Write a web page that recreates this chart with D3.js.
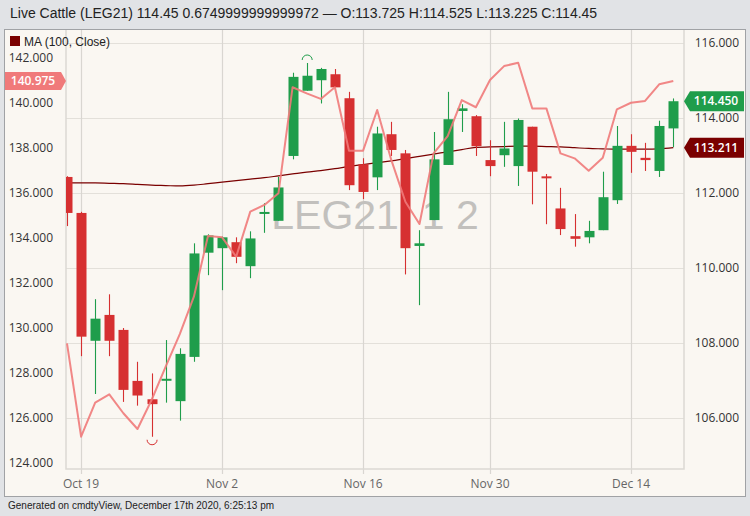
<!DOCTYPE html>
<html><head><meta charset="utf-8">
<script src="https://cdn.jsdelivr.net/npm/d3@7"></script>
<style>html,body{margin:0;padding:0;background:#e1e3e6;} svg{display:block}</style>
</head><body><svg id="c" width="750" height="516"></svg>
<script>
// ---- data ----
const dates = ["2020-10-16","2020-10-19","2020-10-20","2020-10-21","2020-10-22","2020-10-23",
 "2020-10-26","2020-10-27","2020-10-28","2020-10-29","2020-10-30",
 "2020-11-02","2020-11-03","2020-11-04","2020-11-05","2020-11-06",
 "2020-11-09","2020-11-10","2020-11-11","2020-11-12","2020-11-13",
 "2020-11-16","2020-11-17","2020-11-18","2020-11-19","2020-11-20",
 "2020-11-23","2020-11-24","2020-11-25","2020-11-27",
 "2020-11-30","2020-12-01","2020-12-02","2020-12-03","2020-12-04",
 "2020-12-07","2020-12-08","2020-12-09","2020-12-10","2020-12-11",
 "2020-12-14","2020-12-15","2020-12-16","2020-12-17"];
const openP  = [112.43,111.47,108.06,108.75,108.35,106.99,106.50,107.00,106.45,107.63,110.41,
 110.53,110.69,110.05,111.44,111.26,112.99,114.73,115.01,115.17,114.53,
 112.77,112.42,113.57,113.06,110.59,111.28,112.75,114.19,114.05,
 112.88,113.01,112.72,113.77,112.42,111.59,110.85,110.82,111.01,111.81,
 113.26,112.94,112.59,113.725];
const highP  = [112.45,111.50,109.17,109.30,108.40,107.50,107.19,108.08,107.86,110.66,110.90,
 110.84,110.82,110.98,111.73,112.43,115.21,115.47,115.34,115.31,114.70,
 112.93,113.77,113.90,113.15,111.01,113.63,114.70,114.37,114.08,
 113.41,113.90,113.99,113.77,112.51,112.14,111.44,111.26,112.57,113.79,
 113.57,113.34,113.93,114.525];
const lowP   = [111.12,107.65,106.64,107.65,106.43,106.33,105.50,106.41,105.93,107.50,109.81,
 109.41,110.13,109.73,110.94,111.26,112.90,114.73,114.39,114.82,112.08,
 111.84,112.08,112.99,109.83,109.01,111.28,112.75,113.63,112.99,
 112.45,112.70,112.19,111.70,111.17,110.88,110.57,110.66,111.01,111.71,
 112.54,112.59,112.43,113.225];
const closeP = [111.47,108.17,108.65,108.06,106.75,106.60,106.37,107.02,107.71,110.39,110.87,
 110.82,110.30,110.79,111.47,112.15,115.10,115.13,115.31,114.82,112.21,
 112.03,113.59,113.15,110.53,110.66,112.90,113.97,114.26,113.25,
 112.72,113.19,113.95,112.57,112.40,111.04,110.78,110.99,111.89,113.26,
 113.10,112.88,113.79,114.45];
const ma100 = [112.27,112.27,112.27,112.26,112.25,112.23,112.21,112.20,112.19,112.21,112.25,
 112.29,112.33,112.37,112.41,112.46,112.51,112.56,112.60,112.65,112.71,
 112.76,112.81,112.86,112.92,112.98,113.04,113.10,113.16,113.22,
 113.23,113.24,113.25,113.25,113.24,113.23,113.21,113.19,113.18,113.17,
 113.17,113.17,113.18,113.211];
const comparison = [129.32,125.17,126.68,127.05,126.21,125.51,126.80,128.28,129.73,131.39,134.09,
 134.03,133.17,135.17,135.47,135.99,140.70,140.43,140.18,140.70,137.88,
 137.88,139.69,137.47,135.61,134.62,137.76,138.53,140.13,139.81,
 141.02,141.64,141.79,139.76,139.76,137.76,137.54,136.99,137.57,139.72,
 140.01,140.09,140.83,140.975];
const rightTicks = [106,108,110,112,114,116];
const leftTicks = [124,126,128,130,132,134,136,138,140,142];
const xTickDates = ["2020-10-19","2020-11-02","2020-11-16","2020-11-30","2020-12-14"];
const xTickLabels = ["Oct 19","Nov 2","Nov 16","Nov 30","Dec 14"];
const titleText = "Live Cattle (LEG21) 114.45 0.6749999999999972 \u2014 O:113.725 H:114.525 L:113.225 C:114.45";
const legendText = "MA (100, Close)";
const watermark = "LEG21, 1 2";
const footer = "Generated on cmdtyView, December 17th 2020, 6:25:13 pm";

// ---- layout ----
const W = 750, H = 516;
const plot = {l:66, r:684, t:30, b:469};
const GREEN = "#1f9d4b", RED = "#d63031", MA_C = "#7a0000", PINK = "#f07a7a";

const svg = d3.select("#c");
const x = d3.scaleLinear().domain([-0.07, 43.76]).range([plot.l, plot.r]);
const yR = d3.scaleLinear().domain([104.64, 116.35]).range([plot.b, plot.t]);
const yL = d3.scaleLinear().domain([123.733, 143.244]).range([plot.b, plot.t]);
const fmt = d3.format(".3f");

svg.append("rect").attr("width", W).attr("height", H).attr("fill", "#e1e3e6");
svg.append("rect").attr("x", 4.5).attr("y", 29.5).attr("width", 741).attr("height", 467)
  .attr("fill", "#faf7f2").attr("stroke", "#a0a2a5");

svg.append("text").attr("x", 10).attr("y", 18).text(titleText)
  .attr("font-family", "Liberation Sans, Arial, sans-serif").attr("font-size", 14).attr("fill", "#222");
svg.append("text").attr("x", 8).attr("y", 509).text(footer)
  .attr("font-family", "Liberation Sans, Arial, sans-serif").attr("font-size", 10).attr("fill", "#222");

// grid
const grid = svg.append("g").attr("stroke", "#e3e0da").attr("stroke-width", 1.2);
grid.selectAll(".hg").data(rightTicks).join("line")
  .attr("x1", plot.l).attr("x2", plot.r)
  .attr("y1", d => Math.round(yR(d)) + 0.5).attr("y2", d => Math.round(yR(d)) + 0.5);
const xTickIdx = xTickDates.map(d => dates.indexOf(d));
grid.selectAll(".vg").data(xTickIdx).join("line")
  .attr("stroke", "#d9d6d1")
  .attr("x1", d => Math.round(x(d)) + 0.5).attr("x2", d => Math.round(x(d)) + 0.5)
  .attr("y1", plot.t).attr("y2", plot.b + 5);
// frame
svg.append("path").attr("fill", "none").attr("stroke", "#dcd9d3").attr("stroke-width", 1.5)
  .attr("d", `M${plot.l},${plot.t}V${plot.b}H${plot.r}V${plot.t}`);

// axes labels
const tickFont = "Open Sans, Liberation Sans, sans-serif";
svg.append("g").selectAll("text").data(leftTicks).join("text")
  .attr("x", 53).attr("y", d => yL(d)).attr("dy", "0.35em").attr("text-anchor", "end")
  .attr("font-family", tickFont).attr("font-size", 12).attr("fill", "#333").text(d => fmt(d));
svg.append("g").selectAll("text").data(rightTicks).join("text")
  .attr("x", 739).attr("y", d => yR(d)).attr("dy", "0.35em").attr("text-anchor", "end")
  .attr("font-family", tickFont).attr("font-size", 12).attr("fill", "#333").text(d => fmt(d));
svg.append("g").selectAll("text").data(xTickIdx).join("text")
  .attr("x", d => x(d)).attr("y", 488).attr("text-anchor", "middle")
  .attr("font-family", tickFont).attr("font-size", 12).attr("fill", "#666")
  .text((d, i) => xTickLabels[i]);

// clip
svg.append("clipPath").attr("id", "clip").append("rect")
  .attr("x", plot.l).attr("y", plot.t).attr("width", plot.r - plot.l).attr("height", plot.b - plot.t);
const g = svg.append("g").attr("clip-path", "url(#clip)");

// watermark
g.append("text").attr("x", (plot.l + plot.r) / 2).attr("y", 229).attr("text-anchor", "middle")
  .attr("font-family", "Liberation Sans, Arial, sans-serif").attr("font-size", 41)
  .attr("fill", "#c2c0bd").text(watermark);

// MA line
g.append("path").datum(ma100).attr("fill", "none").attr("stroke", MA_C).attr("stroke-width", 1.2)
  .attr("d", d3.line().x((d, i) => x(i)).y(d => yR(d)).curve(d3.curveMonotoneX));

// candles
const idx = d3.range(dates.length);
const col = i => closeP[i] >= openP[i] ? GREEN : RED;
g.append("g").selectAll("line").data(idx).join("line")
  .attr("x1", i => Math.round(x(i)) + 0.5).attr("x2", i => Math.round(x(i)) + 0.5)
  .attr("y1", i => yR(highP[i])).attr("y2", i => yR(lowP[i]))
  .attr("stroke", col).attr("stroke-width", 1.1);
g.append("g").selectAll("rect").data(idx).join("rect")
  .attr("x", i => Math.round(x(i)) - 4.5).attr("width", 10)
  .attr("y", i => Math.min(yR(openP[i]), yR(closeP[i])) - (Math.abs(yR(openP[i]) - yR(closeP[i])) < 2 ? 1 : 0))
  .attr("height", i => Math.max(2, Math.abs(yR(openP[i]) - yR(closeP[i]))))
  .attr("fill", col);

// high / low markers
const hi = d3.maxIndex(highP), lo = d3.minIndex(lowP);
const hp = d3.path(); hp.moveTo(x(hi) + 0.5 - 5, yR(highP[hi]) - 3); hp.arc(x(hi) + 0.5, yR(highP[hi]) - 3, 5, Math.PI, 2 * Math.PI);
const lp = d3.path(); lp.moveTo(x(lo) + 0.5 + 5, yR(lowP[lo]) + 3); lp.arc(x(lo) + 0.5, yR(lowP[lo]) + 3, 5, 0, Math.PI);
svg.append("path").attr("d", hp.toString()).attr("fill", "none").attr("stroke", GREEN).attr("stroke-width", 1);
svg.append("path").attr("d", lp.toString()).attr("fill", "none").attr("stroke", RED).attr("stroke-width", 1);

// comparison line
g.append("path").datum(comparison).attr("fill", "none").attr("stroke", PINK).attr("stroke-width", 2)
  .attr("stroke-opacity", 0.9).attr("stroke-linejoin", "round")
  .attr("d", d3.line().x((d, i) => x(i)).y(d => yL(d)));

// legend
svg.append("rect").attr("x", 10).attr("y", 36).attr("width", 10).attr("height", 10).attr("fill", MA_C);
svg.append("text").attr("x", 24).attr("y", 45.5).text(legendText)
  .attr("font-family", "Liberation Sans, Arial, sans-serif").attr("font-size", 12).attr("fill", "#222");

// value labels
function leftTag(v, color) {
  const yy = yL(v);
  svg.append("path").attr("fill", color)
    .attr("d", `M5,${yy - 9}H61L66,${yy}L61,${yy + 9}H5Z`);
  svg.append("text").attr("x", 33).attr("y", yy).attr("dy", "0.35em").attr("text-anchor", "middle")
    .attr("font-family", tickFont).attr("font-size", 12).attr("font-weight", 600).attr("fill", "#fff").text(fmt(v));
}
function rightTag(v, color) {
  const yy = yR(v);
  svg.append("path").attr("fill", color)
    .attr("d", `M684,${yy}L690,${yy - 10}H744V${yy + 10}H690Z`);
  svg.append("text").attr("x", 716).attr("y", yy).attr("dy", "0.35em").attr("text-anchor", "middle")
    .attr("font-family", tickFont).attr("font-size", 12).attr("font-weight", 600).attr("fill", "#fff").text(fmt(v));
}
const last = dates.length - 1;
leftTag(comparison[last], PINK);
rightTag(closeP[last], GREEN);
rightTag(ma100[last], MA_C);
</script></body></html>
